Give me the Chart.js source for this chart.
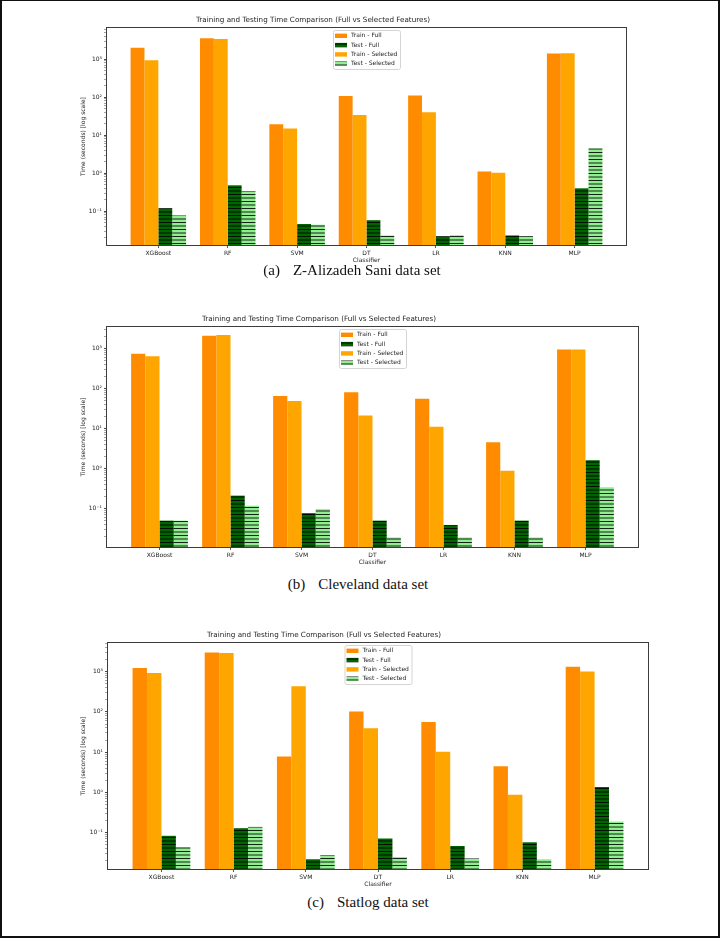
<!DOCTYPE html>
<html>
<head>
<meta charset="utf-8">
<script src="https://cdn.jsdelivr.net/npm/chart.js@4.4.1/dist/chart.umd.min.js"></script>
<style>
html, body { margin: 0; padding: 0; background: #fff; }
#page { position: relative; width: 720px; height: 938px; overflow: hidden; background: #fff; }
#frame { position: absolute; left: 0; top: 0; width: 720px; height: 938px; box-sizing: border-box;
         border: 2px solid #111; border-top-width: 1.5px; pointer-events: none; }
canvas { position: absolute; left: 0; }
.cap { position: absolute; left: 0; width: 720px; text-align: center; line-height: 18px;
       font-family: "Liberation Serif", "Times New Roman", serif; font-size: 15px; color: #111; }
.cap span { margin-right: 13px; }
</style>
</head>
<body>
<div id="page">
  <canvas id="chartA"></canvas>
  <div class="cap" id="capA"><span>(a)</span>Z-Alizadeh Sani data set</div>
  <canvas id="chartB"></canvas>
  <div class="cap" id="capB"><span>(b)</span>Cleveland data set</div>
  <canvas id="chartC"></canvas>
  <div class="cap" id="capC"><span>(c)</span>Statlog data set</div>
  <div id="frame"></div>
</div>
<script>
// classifiers on the x axis
const classifiers = ['XGBoost', 'RF', 'SVM', 'DT', 'LR', 'KNN', 'MLP'];
const seriesLabels = ['Train - Full', 'Train - Selected', 'Test - Full', 'Test - Selected'];
const legendOrder = [0, 2, 1, 3];

// (a) Z-Alizadeh Sani, seconds
const zTrainFull = [2000, 3550, 19.5, 108, 110, 1.1, 1410];
const zTrainSel  = [930, 3370, 15, 34, 40, 1.02, 1440];
const zTestFull  = [0.12, 0.48, 0.046, 0.058, 0.022, 0.023, 0.40];
const zTestSel   = [0.077, 0.34, 0.044, 0.023, 0.0234, 0.022, 4.5];
const zRange = [0.0129, 6600];

// (b) Cleveland
const cTrainFull = [730, 2050, 64, 80, 55, 4.5, 935];
const cTrainSel  = [630, 2130, 48, 21, 11, 0.88, 935];
const cTestFull  = [0.05, 0.21, 0.077, 0.05, 0.039, 0.05, 1.6];
const cTestSel   = [0.05, 0.118, 0.097, 0.019, 0.019, 0.019, 0.34];
const cRange = [0.011, 3390];

// (c) Statlog
const sTrainFull = [1230, 3000, 7.8, 103, 56, 4.5, 1320];
const sTrainSel  = [920, 2900, 430, 39, 10.2, 0.88, 1000];
const sTestFull  = [0.084, 0.13, 0.022, 0.072, 0.047, 0.058, 1.36];
const sTestSel   = [0.044, 0.14, 0.028, 0.025, 0.023, 0.022, 0.19];
const sRange = [0.0126, 5130];

const FONT = '"DejaVu Sans", sans-serif';
const SUP = {'-': '\u207B', '0': '\u2070', '1': '\u00B9', '2': '\u00B2', '3': '\u00B3',
             '4': '\u2074', '5': '\u2075', '6': '\u2076', '7': '\u2077', '8': '\u2078', '9': '\u2079'};

function hatch(color) {
    const c = document.createElement('canvas');
    c.width = 8; c.height = 7;
    const g = c.getContext('2d');
    g.fillStyle = color;
    g.fillRect(0, 0, 8, 7);
    g.fillStyle = 'rgba(0,0,0,0.85)';
    g.fillRect(0, 0, 8, 1);
    g.fillRect(0, 3.5, 8, 1);
    return g.createPattern(c, 'repeat');
}

function isDecade(v) {
    const l = Math.log10(v);
    return Math.abs(l - Math.round(l)) < 1e-9;
}

function logTicks(min, max) {
    const out = [];
    for (let e = Math.floor(Math.log10(min)); e <= Math.ceil(Math.log10(max)); e++) {
        for (let d = 1; d < 10; d++) {
            const v = d * Math.pow(10, e);
            if (v >= min && v <= max) out.push({value: v, major: d === 1});
        }
    }
    return out;
}

const frameLegend = {
    id: 'frameLegend',
    afterDatasetsDraw(chart) {
        const ctx = chart.ctx, a = chart.chartArea;
        ctx.save();
        ctx.strokeStyle = '#3c3c3c';
        ctx.lineWidth = 1;
        ctx.strokeRect(Math.round(a.left) - 0.5, Math.round(a.top) - 0.5,
                       Math.round(a.right - a.left) + 1, Math.round(a.bottom - a.top) + 1);

        // legend, upper center
        const w = 67, h = 39;
        const x0 = (a.left + a.right) / 2 - w / 2, y0 = a.top + 2;
        ctx.beginPath();
        ctx.roundRect(x0 + 0.5, y0 + 0.5, w, h, 2);
        ctx.fillStyle = 'rgba(255,255,255,0.85)';
        ctx.fill();
        ctx.strokeStyle = '#d4d4d4';
        ctx.stroke();
        ctx.font = '6px ' + FONT;
        ctx.textBaseline = 'middle';
        legendOrder.forEach((di, k) => {
            const ds = chart.data.datasets[di];
            const cy = y0 + 5.8 + k * 9.3;
            ctx.fillStyle = ds.backgroundColor;
            ctx.fillRect(x0 + 2, cy - 2.2, 12, 4.4);
            ctx.fillStyle = '#222';
            ctx.fillText(ds.label, x0 + 18, cy);
        });
        ctx.restore();
    }
};

function makeChart(id, capId, box, cap, series, range) {
    const canvas = document.getElementById(id);
    const top = box.T - 30;
    canvas.width = 720;
    canvas.height = box.B - box.T + 50;
    canvas.style.top = top + 'px';
    canvas.style.width = '720px';
    canvas.style.height = canvas.height + 'px';
    const capEl = document.getElementById(capId);
    capEl.style.top = (cap.y - 9) + 'px';
    capEl.style.left = (cap.x - 360) + 'px';

    const titleLH = 7.2 * 1.2;
    const colors = ['#ff8c00', '#ffa500', hatch('#006400'), hatch('#90ee90')];
    const datasets = series.map((vals, i) => ({
        label: seriesLabels[i],
        data: vals.map((v, k) => ({x: k, y: v})),
        backgroundColor: colors[i],
        borderWidth: 0,
        categoryPercentage: 0.8,
        barPercentage: 1.0
    }));

    return new Chart(canvas, {
        type: 'bar',
        data: {datasets: datasets},
        plugins: [frameLegend],
        options: {
            responsive: false,
            animation: false,
            devicePixelRatio: 1,
            layout: {padding: {left: 0, right: 720 - box.R, top: 0, bottom: 0}},
            plugins: {
                legend: {display: false},
                tooltip: {enabled: false},
                title: {
                    display: true,
                    text: 'Training and Testing Time Comparison (Full vs Selected Features)',
                    color: '#222',
                    font: {family: FONT, size: 7.2, weight: 'normal'},
                    padding: {top: 30 - 7.5 - titleLH / 2, bottom: 7.5 - titleLH / 2}
                }
            },
            scales: {
                x: {
                    type: 'linear',
                    min: -0.74,
                    max: 6.74,
                    offset: false,
                    afterBuildTicks: (s) => { s.ticks = classifiers.map((c, i) => ({value: i})); },
                    afterFit: (s) => { s.height = 20; },
                    ticks: {
                        autoSkip: false, maxRotation: 0, padding: 1.5, color: '#222',
                        font: {family: FONT, size: 6},
                        callback: (v) => classifiers[v]
                    },
                    grid: {drawOnChartArea: false, drawTicks: true, tickLength: 3, offset: false,
                           tickColor: '#333', tickWidth: 0.8},
                    border: {display: false},
                    title: {display: true, text: 'Classifier', color: '#222',
                            font: {family: FONT, size: 6}, padding: {top: 0, bottom: 20 - 15.5 - 3.6}}
                },
                y: {
                    type: 'logarithmic',
                    min: range[0],
                    max: range[1],
                    afterBuildTicks: (s) => { s.ticks = logTicks(range[0], range[1]); },
                    afterFit: (s) => { s.width = box.L; },
                    ticks: {
                        autoSkip: false, padding: 2, color: '#222',
                        font: {family: FONT, size: 6},
                        callback: (v) => isDecade(v)
                            ? '10' + String(Math.round(Math.log10(v))).split('').map(ch => SUP[ch]).join('')
                            : ''
                    },
                    grid: {drawOnChartArea: false, drawTicks: true, tickLength: 3,
                           tickColor: (c) => (c.tick && isDecade(c.tick.value)) ? '#333' : '#666',
                           tickWidth: (c) => (c.tick && isDecade(c.tick.value)) ? 0.9 : 0.6},
                    border: {display: false},
                    title: {display: true, text: 'Time (seconds) [log scale]', color: '#222',
                            font: {family: FONT, size: 6}, padding: {top: 83 - 3.6, bottom: 0}}
                }
            }
        }
    });
}

makeChart('chartA', 'capA', {L: 107, R: 626, T: 28, B: 245}, {x: 352, y: 270},
          [zTrainFull, zTrainSel, zTestFull, zTestSel], zRange);
makeChart('chartB', 'capB', {L: 107, R: 638, T: 327, B: 547}, {x: 358, y: 584},
          [cTrainFull, cTrainSel, cTestFull, cTestSel], cRange);
makeChart('chartC', 'capC', {L: 108, R: 648, T: 643, B: 869}, {x: 368, y: 902},
          [sTrainFull, sTrainSel, sTestFull, sTestSel], sRange);
</script>
</body>
</html>
